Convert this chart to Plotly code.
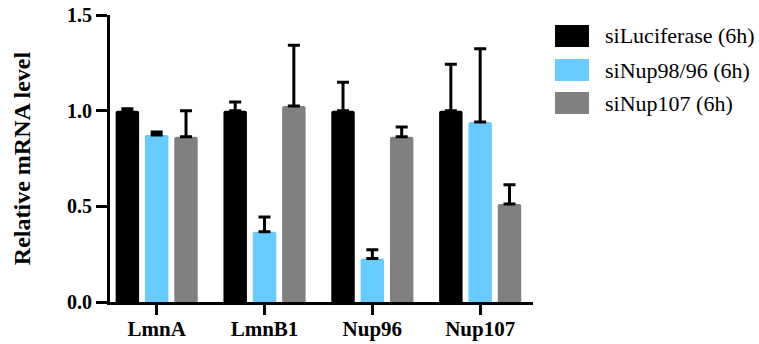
import plotly.graph_objects as go

categories = ["LmnA", "LmnB1", "Nup96", "Nup107"]
series_names = ["siLuciferase (6h)", "siNup98/96 (6h)", "siNup107 (6h)"]
colors = ["#000000", "#66CCFF", "#808080"]

si_luciferase = [1.0, 1.0, 1.0, 1.0]
si_luciferase_err = [0.01, 0.045, 0.148, 0.242]
si_nup98_96 = [0.873, 0.367, 0.228, 0.941]
si_nup98_96_err = [0.016, 0.077, 0.045, 0.383]
si_nup107 = [0.864, 1.024, 0.864, 0.512]
si_nup107_err = [0.136, 0.318, 0.051, 0.101]

y_ticks = [0.0, 0.5, 1.0, 1.5]
y_tick_labels = ["0.0", "0.5", "1.0", "1.5"]

values = [si_luciferase, si_nup98_96, si_nup107]
errors = [si_luciferase_err, si_nup98_96_err, si_nup107_err]

W, H = 759, 344
ML, MR, MT, MB = 110, 226, 15, 42
PW, PH = W - ML - MR, H - MT - MB

fig = go.Figure()
for name, col, v, e in zip(series_names, colors, values, errors):
    fig.add_trace(go.Bar(
        x=categories, y=v, name=name, marker=dict(color=col, line=dict(width=0), cornerradius=2),
        showlegend=False,
        error_y=dict(type="data", symmetric=False, array=e,
                     arrayminus=[0] * len(e), color="black", thickness=3, width=6),
    ))

serif = "Liberation Serif"

# manual legend with large swatches
def px_x(p):
    return (p - ML) / PW

def px_y(p):
    return (H - MB - p) / PH

shapes, annots = [], []
row_centers = [36, 70, 103]
for name, col, yc in zip(series_names, colors, row_centers):
    shapes.append(dict(type="rect", xref="paper", yref="paper",
                       x0=px_x(555), x1=px_x(589), y0=px_y(yc + 11), y1=px_y(yc - 11),
                       fillcolor=col, line=dict(width=0)))
    annots.append(dict(xref="paper", yref="paper", x=px_x(603), y=px_y(yc),
                       xanchor="left", yanchor="middle", showarrow=False, text=name,
                       font=dict(family=serif, size=22, color="black")))

fig.update_layout(
    width=W, height=H, autosize=False,
    margin=dict(l=ML, r=MR, t=MT, b=MB, pad=0, autoexpand=False),
    paper_bgcolor="white", plot_bgcolor="white",
    font=dict(family=serif, color="black"),
    barmode="group", bargap=0.184, bargroupgap=0.2,
    shapes=shapes, annotations=annots,
    xaxis=dict(range=[-0.433, 3.49], showline=True, linewidth=3, linecolor="black",
               automargin=False,
               ticks="outside", ticklen=10, tickwidth=3, tickcolor="black",
               ticklabelstandoff=-4,
               showgrid=False, zeroline=False,
               tickfont=dict(family=serif, size=21, color="black", weight="bold")),
    yaxis=dict(range=[0, 1.5], tickvals=y_ticks, ticktext=y_tick_labels,
               automargin=False,
               showline=True, linewidth=3, linecolor="black",
               ticks="outside", ticklen=11, tickwidth=3, tickcolor="black",
               showgrid=False, zeroline=False,
               tickfont=dict(family=serif, size=20, color="black", weight="bold"),
               title=dict(text="Relative mRNA level", standoff=30,
                          font=dict(family=serif, size=24, color="black", weight="bold"))),
)

fig.write_html("out.html")
